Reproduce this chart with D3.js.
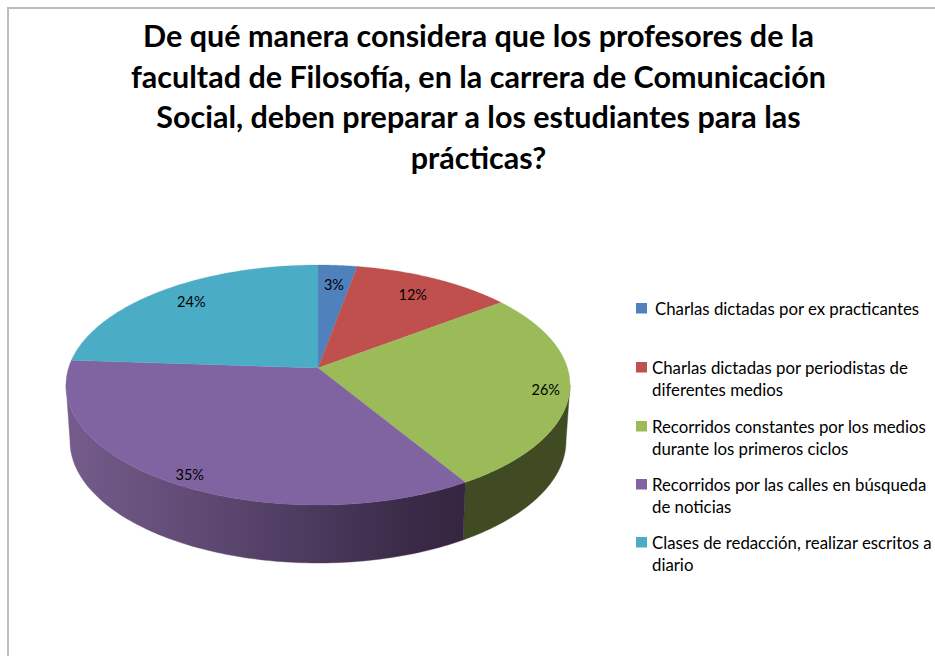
<!DOCTYPE html>
<html><head><meta charset="utf-8">
<script src="https://cdn.jsdelivr.net/npm/d3@7"></script>
<style>html,body{margin:0;padding:0;background:#fff}svg{display:block}text{font-family:Lato,"Open Sans",sans-serif;fill:#000}</style>
</head><body><svg id="c" width="935" height="656"></svg>
<script>
const titleLines = ["De qué manera considera que los profesores de la","facultad de Filosofía, en la carrera de Comunicación","Social, deben preparar a los estudiantes para las","prácticas?"];
const categories = [
  ["Charlas dictadas por ex practicantes"],
  ["Charlas dictadas por periodistas de","diferentes medios"],
  ["Recorridos constantes por los medios","durante los primeros ciclos"],
  ["Recorridos por las calles en búsqueda","de noticias"],
  ["Clases de redacción, realizar escritos a","diario"]
];
const values = [3,12,26,35,24];
const colors = ["#4f81bd","#c0504d","#9bbb59","#8064a2","#4bacc6"];
const labelReach = [.81,.82,.905,.915,.84];
const legendTextX = [655,652,652,652,652];
const legendTop = [303,362,421,479,537];

const svg = d3.select("#c");
const top_ = {cx:318,cy:385,rx:252,ry:120}, bot = {cx:318,cy:441,rx:248,ry:122};
const apex = {x:318,y:368}, squash = 2.03;
const TAU = Math.PI*2;

// frame
svg.append("path").attr("d","M8,656V8H935").attr("fill","none").attr("stroke","#bdbdbd").attr("stroke-width",2);

const pie = d3.pie().sort(null).value(d=>d);
const arcs = pie(values);
const color = d3.scaleOrdinal().domain(d3.range(values.length)).range(colors);

function rayT(theta){ // ray parameter where a data angle, seen from the apex, meets the rim
  const dx=squash*Math.sin(theta), dy=-Math.cos(theta);
  const ox=(apex.x-top_.cx)/top_.rx, oy=(apex.y-top_.cy)/top_.ry;
  const ax=dx/top_.rx, ay=dy/top_.ry;
  const A=ax*ax+ay*ay,B=2*(ox*ax+oy*ay),C=ox*ox+oy*oy-1;
  return (-B+Math.sqrt(B*B-4*A*C))/(2*A);
}
function rayPoint(theta,f=1){const t=rayT(theta)*f;return [apex.x+squash*Math.sin(theta)*t,apex.y-Math.cos(theta)*t];}
function param(theta){
  if(theta>=TAU-1e-9) return TAU;
  const [x,y]=rayPoint(theta);
  let t=Math.atan2((x-top_.cx)/top_.rx,-(y-top_.cy)/top_.ry);
  return t<0?t+TAU:t;
}
const onE=(e,t)=>[e.cx+e.rx*Math.sin(t),e.cy-e.ry*Math.cos(t)];
const samples=(a,b)=>d3.range(0,121).map(i=>a+(b-a)*i/120);
const line=d3.line();

// side gradient
const defs=svg.append("defs");
const g=defs.append("linearGradient").attr("id","sidePurple").attr("gradientUnits","userSpaceOnUse").attr("x1",66).attr("x2",465).attr("y1",0).attr("y2",0);
[[0,"#755c8c"],[.3,"#624c76"],[.6,"#4d3a5f"],[.85,"#3b2b48"],[1,"#352540"]].forEach(s=>g.append("stop").attr("offset",s[0]).attr("stop-color",s[1]));

// sides: only the part of the rim facing the viewer
const sides=[{i:2,fill:"#404a23"},{i:3,fill:"url(#sidePurple)"}];
sides.forEach(s=>{
  const d=arcs[s.i];
  let t0=Math.max(param(d.startAngle),Math.PI/2), t1=Math.min(param(d.endAngle),Math.PI*1.5);
  const pts=samples(t0,t1).map(t=>onE(top_,t)).concat(samples(t1,t0).map(t=>onE(bot,t)));
  svg.append("path").attr("d",line(pts)+"Z").attr("fill",s.fill).attr("stroke",s.fill).attr("stroke-width",.4);
});
// tops
svg.append("g").selectAll("path").data(arcs).join("path")
  .attr("d",d=>{
    const pts=samples(param(d.startAngle),param(d.endAngle)).map(t=>onE(top_,t));
    return line([[apex.x,apex.y],...pts])+"Z";
  })
  .attr("fill",(d,i)=>color(i)).attr("stroke",(d,i)=>color(i)).attr("stroke-width",.3);
// data labels
svg.append("g").selectAll("text").data(arcs).join("text")
  .attr("transform",(d,i)=>{const p=rayPoint((d.startAngle+d.endAngle)/2,labelReach[i]);return `translate(${p[0]},${p[1]})`;})
  .attr("text-anchor","middle").attr("dy","0.36em").attr("font-size",14.5).text(d=>d.value+"%");
// title
svg.append("g").selectAll("text").data(titleLines).join("text")
  .attr("x",478.5).attr("y",(d,i)=>47+i*40.7).attr("text-anchor","middle").attr("font-weight",700).attr("font-size",30.5).text(d=>d);
// legend
const lg=svg.append("g").selectAll("g").data(categories).join("g");
lg.append("rect").attr("x",636).attr("y",(d,i)=>legendTop[i]).attr("width",11).attr("height",10.5).attr("fill",(d,i)=>color(i));
lg.each(function(d,i){
  d3.select(this).selectAll("text").data(d).join("text")
    .attr("x",legendTextX[i]).attr("y",(l,j)=>legendTop[i]+11.7+j*22.3).attr("font-size",16.8).text(l=>l);
});
</script></body></html>
